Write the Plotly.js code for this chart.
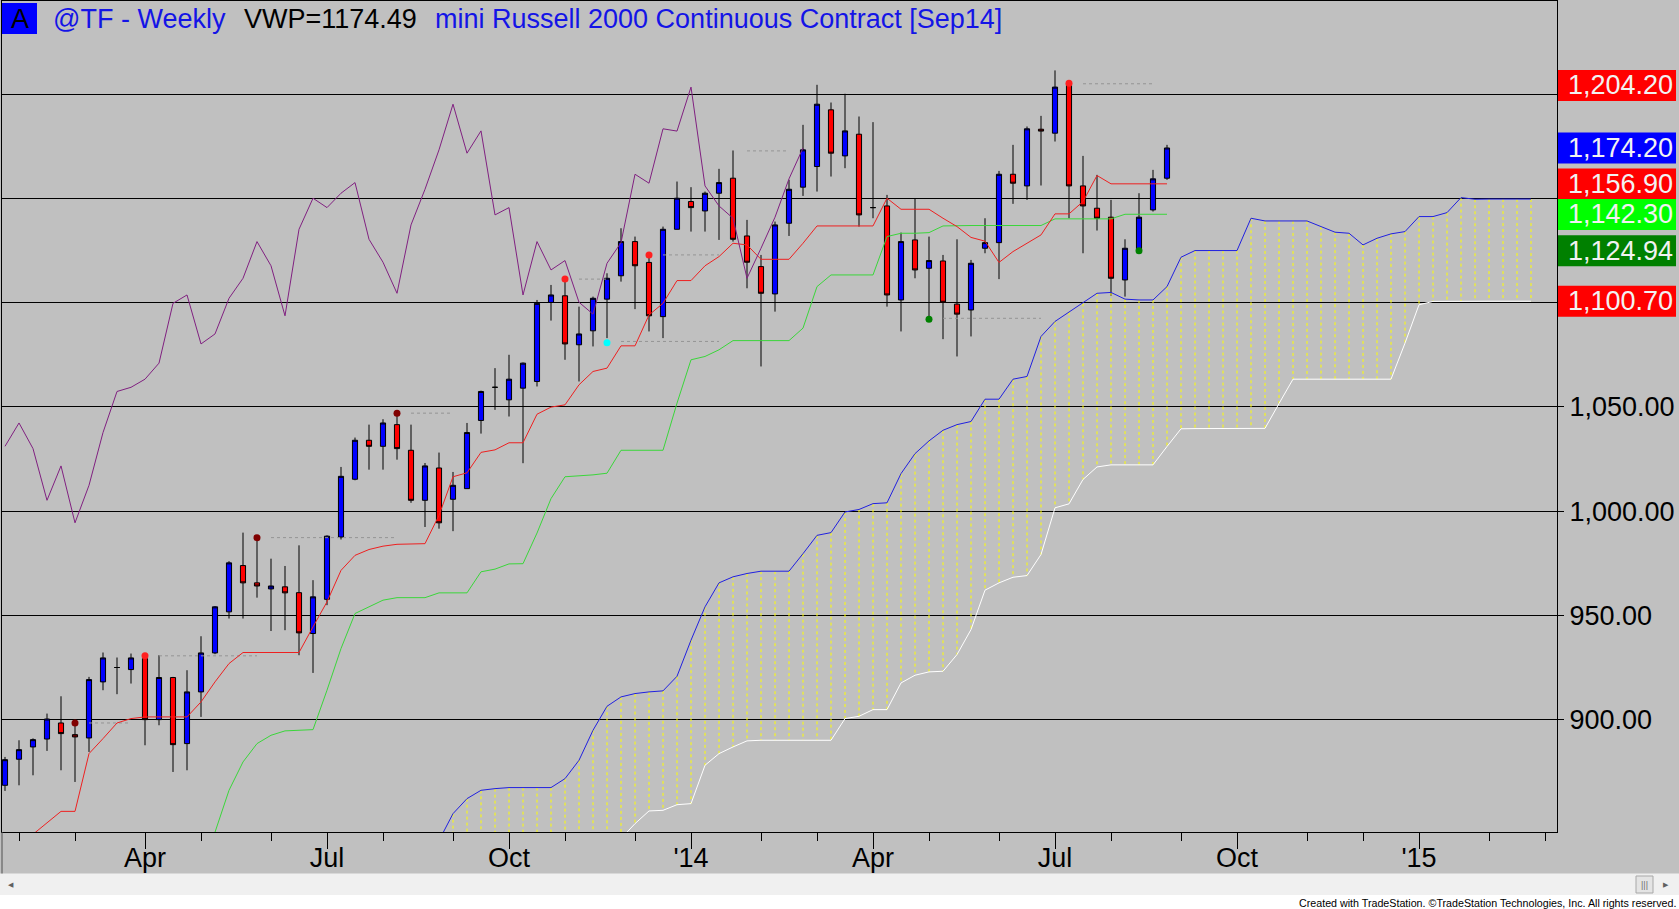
<!DOCTYPE html>
<html>
<head>
<meta charset="utf-8">
<script src="https://cdn.plot.ly/plotly-3.0.1.min.js"></script>
<style>
  html, body { margin: 0; padding: 0; background: #c0c0c0; }
  #chart { width: 1679px; height: 909px; }
</style>
</head>
<body>
<div id="chart"></div>
<script>
// @TF weekly bars, one per Friday from 2013-01-25 to 2014-08-29
const firstBarUTC = Date.UTC(2013, 0, 25)
const DAY = 86400000

const opens = [868.5, 881.0, 886.9, 890.7, 898.4, 892.8, 891.2, 918.1, 925.0, 924.0,
  929.3, 900.0, 920.2, 888.5, 913.3, 932.0, 951.7, 973.9, 965.6, 962.7,
  963.7, 960.9, 941.3, 957.7, 987.6, 1015.3, 1034.0, 1031.1, 1041.5, 1029.2,
  1005.2, 1020.7, 1005.7, 1010.8, 1043.5, 1059.4, 1053.4, 1059.0, 1062.2, 1100.1,
  1103.3, 1079.8, 1086.5, 1101.7, 1112.9, 1129.3, 1119.3, 1093.3, 1135.2, 1148.5,
  1144.0, 1152.5, 1159.7, 1132.0, 1117.3, 1104.2, 1138.1, 1155.4, 1165.3, 1192.5,
  1170.4, 1180.8, 1145.6, 1146.4, 1101.3, 1130.1, 1116.5, 1120.0, 1099.3, 1096.5,
  1126.1, 1128.8, 1161.6, 1156.0, 1183.2, 1181.3, 1205.0, 1156.0, 1145.3, 1141.0,
  1110.9, 1125.6, 1144.5, 1159.7]
const highs = [882.1, 890.1, 891.0, 902.9, 911.2, 897.3, 920.5, 932.2, 929.8, 931.7,
  931.4, 930.9, 920.5, 923.7, 940.0, 954.5, 976.0, 989.7, 987.3, 977.2,
  973.7, 983.6, 966.9, 988.4, 1021.2, 1035.3, 1041.5, 1044.1, 1046.8, 1041.5,
  1023.1, 1028.1, 1018.8, 1042.3, 1057.8, 1068.6, 1075.0, 1071.3, 1101.3, 1108.5,
  1111.3, 1098.1, 1102.9, 1114.1, 1135.7, 1131.7, 1123.7, 1136.5, 1158.1, 1155.4,
  1153.3, 1164.2, 1173.0, 1139.7, 1122.9, 1138.9, 1158.9, 1185.3, 1204.5, 1196.0,
  1200.2, 1189.3, 1186.6, 1151.7, 1133.6, 1150.1, 1131.7, 1122.9, 1130.4, 1120.5,
  1140.5, 1163.2, 1175.7, 1184.5, 1189.6, 1211.4, 1205.6, 1170.4, 1161.3, 1149.3,
  1130.4, 1152.5, 1163.7, 1175.7]
const lows = [865.8, 868.5, 873.3, 885.0, 875.7, 870.1, 884.5, 914.1, 912.2, 917.3,
  887.7, 897.3, 874.9, 875.7, 901.3, 931.4, 948.5, 948.5, 958.5, 942.5,
  942.9, 930.9, 922.4, 954.9, 986.4, 1014.8, 1019.9, 1019.9, 1024.7, 1004.0,
  992.4, 991.6, 990.4, 1010.8, 1037.2, 1048.6, 1045.4, 1023.0, 1059.8, 1091.4,
  1072.6, 1062.2, 1079.0, 1083.0, 1110.1, 1096.9, 1086.2, 1083.0, 1135.2, 1134.1,
  1134.1, 1130.1, 1129.3, 1106.9, 1069.4, 1095.7, 1132.0, 1151.2, 1153.3, 1160.5,
  1164.5, 1136.5, 1140.5, 1098.1, 1086.2, 1111.7, 1092.5, 1082.5, 1074.2, 1083.8,
  1123.7, 1111.3, 1147.4, 1149.3, 1156.2, 1177.3, 1140.5, 1123.7, 1134.6, 1103.3,
  1102.9, 1124.0, 1143.7, 1158.9]
const closes = [880.8, 885.6, 890.4, 900.3, 893.3, 891.7, 919.2, 929.6, 925.0, 929.6,
  900.0, 920.2, 888.0, 913.3, 932.0, 954.1, 975.2, 965.6, 964.1, 964.1,
  960.8, 941.6, 958.9, 988.0, 1016.7, 1034.0, 1031.1, 1042.3, 1030.0, 1005.2,
  1021.7, 994.4, 1012.4, 1037.7, 1057.4, 1059.4, 1063.3, 1071.0, 1099.7, 1103.7,
  1080.2, 1085.0, 1102.1, 1111.7, 1129.3, 1117.7, 1093.7, 1135.2, 1150.1, 1145.6,
  1152.5, 1157.6, 1130.4, 1119.4, 1104.5, 1137.3, 1154.4, 1173.3, 1195.2, 1171.7,
  1182.4, 1142.1, 1145.6, 1103.7, 1129.3, 1115.7, 1120.2, 1100.2, 1094.5, 1118.9,
  1128.8, 1161.6, 1157.3, 1183.4, 1182.3, 1203.4, 1156.0, 1146.4, 1140.5, 1111.7,
  1126.1, 1141.0, 1159.4, 1174.2]

// Ichimoku lines; each list starts at the bar index given
const tenkanStart = 2
const tenkan = [845.0, 850.4, 856.0, 856.0, 883.7, 890.9, 898.4, 900.5,
  901.3, 901.3, 901.3, 901.3, 908.5, 918.1, 926.9, 932.2, 932.2, 932.2,
  932.2, 932.2, 944.5, 956.5, 971.6, 978.8, 981.6, 983.2, 984.1, 984.4,
  984.4, 998.0, 1016.5, 1018.4, 1028.2, 1029.4, 1032.8, 1032.8, 1046.5, 1049.9,
  1051.0, 1060.6, 1067.0, 1068.6, 1079.3, 1079.3, 1094.1, 1099.7, 1110.6, 1110.6,
  1117.7, 1122.1, 1128.5, 1127.7, 1120.8, 1120.8, 1120.8, 1128.5, 1136.8, 1136.8,
  1136.8, 1136.8, 1136.8, 1150.1, 1144.8, 1144.8, 1144.8, 1140.5, 1136.5, 1131.3,
  1129.5, 1119.3, 1124.5, 1128.5, 1132.5, 1142.6, 1142.6, 1148.5, 1161.0, 1157.0,
  1157.0, 1157.0, 1157.0, 1157.0]
const kijunStart = 15
const kijun = [846.0, 866.1, 879.7, 888.5, 892.5,
  894.6, 894.9, 895.2, 914.1, 934.1, 950.9, 954.1, 957.3, 958.5, 958.5,
  958.5, 960.8, 960.8, 960.8, 970.9, 972.2, 974.7, 974.8, 989.5, 1006.0,
  1016.5, 1016.9, 1017.4, 1018.2, 1029.2, 1029.2, 1029.2, 1029.2, 1051.8, 1072.6,
  1074.2, 1077.4, 1081.8, 1081.8, 1081.8, 1081.8, 1081.8, 1087.8, 1107.7, 1113.3,
  1113.3, 1113.3, 1113.3, 1131.7, 1133.3, 1133.3, 1133.6, 1136.8, 1137.0, 1137.0,
  1137.0, 1137.0, 1137.0, 1137.0, 1137.0, 1140.2, 1140.2, 1140.2, 1140.2, 1140.2,
  1142.4, 1142.4, 1142.4, 1142.4]
const senkouAStart = 31
const senkouA = [842.0, 854.9, 862.1, 866.1, 866.9, 867.4, 867.4, 867.4, 867.4,
  871.7, 880.5, 894.9, 906.4, 910.9, 912.5, 913.3, 913.8, 920.8, 938.1,
  954.1, 965.6, 968.5, 970.1, 971.2, 971.2, 971.2, 979.6, 988.4, 989.7,
  999.6, 1000.8, 1003.6, 1004.0, 1018.0, 1027.6, 1033.7, 1038.8, 1041.5, 1043.0,
  1053.7, 1053.7, 1063.3, 1064.6, 1083.8, 1091.0, 1095.4, 1099.7, 1104.5, 1104.9,
  1101.7, 1101.3, 1101.3, 1107.7, 1121.8, 1125.0, 1125.0, 1125.0, 1125.0, 1140.5,
  1139.2, 1139.2, 1139.2, 1139.2, 1136.5, 1133.8, 1133.3, 1127.7, 1130.9, 1133.0,
  1134.1, 1141.3, 1141.3, 1143.2, 1150.4, 1149.6, 1149.7, 1149.7, 1149.7, 1149.7]
const senkouBStart = 44
const senkouB = [843.0, 850.1, 856.2, 856.5, 859.2, 859.7,
  878.1, 883.7, 886.9, 889.8, 890.1, 890.1, 890.1, 890.1, 890.1, 890.1,
  900.5, 901.6, 904.8, 904.8, 917.6, 921.3, 922.9, 923.2, 931.2, 943.2,
  962.1, 965.6, 968.3, 969.1, 979.2, 1001.6, 1003.5, 1015.2, 1021.2, 1022.2,
  1022.2, 1022.2, 1022.2, 1031.0, 1039.5, 1039.6, 1039.6, 1039.6, 1039.6, 1039.6,
  1039.7, 1051.6, 1063.3, 1063.3, 1063.3, 1063.3, 1063.3, 1063.3, 1063.3, 1063.3,
  1080.6, 1099.0, 1100.6, 1100.7, 1100.7, 1100.7, 1100.7, 1100.7, 1100.7, 1100.7]
const laggingShift = 26

// swing markers and the dotted levels that trail them
const dotBars = [5, 10, 18, 28, 40, 43, 46, 66, 76, 81]
const dotPrices = [898.4, 930.6, 987.3, 1047.0, 1111.3, 1080.8, 1122.9, 1092.0, 1205.3, 1124.9]
const dotColors = ['#800000', '#ff2020', '#800000', '#800000', '#ff2020', '#00ffff', '#ff2020', '#008000', '#ff2020', '#008000']
const levelFrom = [6, 11, 19, 29, 41, 44, 47, 53, 67, 77]
const levelTo = [9, 18, 28, 32, 43, 51, 51, 56, 74, 82]
const levelPrice = [898.4, 930.6, 987.3, 1047.0, 1111.3, 1081.4, 1122.9, 1172.8, 1092.5, 1205.0]

// price tags on the right scale
const tagPrices = [1204.20, 1174.20, 1156.90, 1142.30, 1124.94, 1100.70]
const tagColors = ['#ff0000', '#0000ff', '#ff0000', '#00ff00', '#008000', '#ff0000']

const yTickVals = [900, 950, 1000, 1050, 1100, 1150, 1200]
const yTickText = ['900.00', '950.00', '1,000.00', '1,050.00', '', '', '']
const xTickDates = ['2013-04-05', '2013-07-05', '2013-10-04', '2014-01-03', '2014-04-04', '2014-07-04', '2014-10-03', '2015-01-02']
const xTickText = ['Apr', 'Jul', 'Oct', "'14", 'Apr', 'Jul', 'Oct', "'15"]
const xMinorDates = ['2013-02-01', '2013-03-01', '2013-05-03', '2013-06-07', '2013-08-02', '2013-09-06',
  '2013-11-01', '2013-12-06', '2014-02-07', '2014-03-07', '2014-05-02', '2014-06-06',
  '2014-08-01', '2014-09-05', '2014-11-07', '2014-12-05', '2015-02-06', '2015-03-06']

const FONT = 'Liberation Sans, Arial, sans-serif'
const yMin = 846.1
const yMax = 1244.7
// plot box in page pixels
const L = 2, T = 1, R = 1557, B = 832

function barDate(i) {
  return new Date(firstBarUTC + i * 7 * DAY).toISOString().slice(0, 10)
}
function msDate(ms) {
  return new Date(ms).toISOString().slice(0, 19).replace('T', ' ')
}
function px(x) { return (x - L) / (R - L) }
function py(y) { return (B - y) / (B - T) }
function priceToPaper(v) { return (v - yMin) / (yMax - yMin) }
function fmt(v) {
  let s = v.toFixed(2)
  let parts = s.split('.')
  parts[0] = parts[0].replace(/\B(?=(\d{3})+(?!\d))/g, ',')
  return parts.join('.')
}
function offsetSeries(values, start) {
  return {
    x: values.map((v, k) => barDate(start + k)),
    y: values
  }
}

const barDates = closes.map((c, i) => barDate(i))

// cloud hatching: dotted vertical from span A to span B (or the floor when B is off the chart)
let cloudX = [], cloudY = []
senkouA.forEach((a, k) => {
  let i = senkouAStart + k
  let b = i >= senkouBStart ? senkouB[i - senkouBStart] : yMin
  cloudX.push(barDate(i), barDate(i), null)
  cloudY.push(a, b, null)
})

let levelX = [], levelY = []
levelPrice.forEach((p, k) => {
  levelX.push(barDate(levelFrom[k]), barDate(levelTo[k]), null)
  levelY.push(p, p, null)
})

let tA = offsetSeries(senkouA, senkouAStart)
let tB = offsetSeries(senkouB, senkouBStart)
let tTen = offsetSeries(tenkan, tenkanStart)
let tKij = offsetSeries(kijun, kijunStart)

const traces = [
  { x: cloudX, y: cloudY, mode: 'lines', type: 'scatter', hoverinfo: 'none',
    line: { color: '#ffff00', width: 1, dash: 'dot' } },
  { x: tA.x, y: tA.y, mode: 'lines', type: 'scatter', hoverinfo: 'none',
    line: { color: '#2020e0', width: 1 } },
  { x: tB.x, y: tB.y, mode: 'lines', type: 'scatter', hoverinfo: 'none',
    line: { color: '#ffffff', width: 1 } },
  { x: levelX, y: levelY, mode: 'lines', type: 'scatter', hoverinfo: 'none',
    line: { color: '#949494', width: 1, dash: 'dot' } },
  { x: barDates, open: opens, high: highs, low: lows, close: closes,
    type: 'candlestick', hoverinfo: 'none', whiskerwidth: 0,
    increasing: { line: { color: '#000000', width: 1 }, fillcolor: '#0000ff' },
    decreasing: { line: { color: '#000000', width: 1 }, fillcolor: '#ff0000' } },
  { x: tKij.x, y: tKij.y, mode: 'lines', type: 'scatter', hoverinfo: 'none',
    line: { color: '#3ad63a', width: 1 } },
  { x: tTen.x, y: tTen.y, mode: 'lines', type: 'scatter', hoverinfo: 'none',
    line: { color: '#ee2020', width: 1 } },
  { x: barDates.slice(0, closes.length - laggingShift), y: closes.slice(laggingShift),
    mode: 'lines', type: 'scatter', hoverinfo: 'none',
    line: { color: '#802080', width: 1 } },
  { x: dotBars.map(barDate), y: dotPrices, mode: 'markers', type: 'scatter', hoverinfo: 'none',
    marker: { color: dotColors, size: 7, line: { width: 0 } } }
]

const shapes = [
  // symbol box
  { type: 'rect', xref: 'paper', yref: 'paper', x0: px(2), x1: px(37), y0: py(34), y1: py(3),
    fillcolor: '#0000ff', line: { width: 0 } },
  // scrollbar strip and footer
  { type: 'rect', xref: 'paper', yref: 'paper', x0: px(0), x1: px(1679), y0: py(895), y1: py(873.5),
    fillcolor: '#f0f0f0', line: { width: 0 }, layer: 'below' },
  { type: 'rect', xref: 'paper', yref: 'paper', x0: px(0), x1: px(1679), y0: py(909), y1: py(895),
    fillcolor: '#ffffff', line: { width: 0 }, layer: 'below' },
  { type: 'rect', xref: 'paper', yref: 'paper', x0: px(1636), x1: px(1653), y0: py(893), y1: py(876),
    fillcolor: '#e4e4e4', line: { color: '#a8a8a8', width: 1 } },
  { type: 'line', xref: 'paper', yref: 'paper', x0: px(2), x1: px(2), y0: py(873.5), y1: py(832),
    line: { color: '#505050', width: 1 } }
]
const tagHalf = 15.5 / ((B - T) / (yMax - yMin))
tagPrices.forEach((p, k) => {
  shapes.push({ type: 'rect', xref: 'paper', yref: 'paper', x0: px(1558), x1: px(1676),
    y0: priceToPaper(p - tagHalf), y1: priceToPaper(p + tagHalf),
    fillcolor: tagColors[k], line: { width: 0 } })
})

const annotations = [
  { text: 'A', xref: 'paper', yref: 'paper', x: px(19.5), y: py(19), xanchor: 'center', yanchor: 'middle',
    showarrow: false, font: { family: FONT, size: 27, color: '#000000' } },
  { text: '@TF - Weekly', xref: 'paper', yref: 'paper', x: px(51), y: py(19), xanchor: 'left', yanchor: 'middle',
    showarrow: false, font: { family: FONT, size: 27, color: '#1414e6' } },
  { text: 'VWP=1174.49', xref: 'paper', yref: 'paper', x: px(242), y: py(19), xanchor: 'left', yanchor: 'middle',
    showarrow: false, font: { family: FONT, size: 27, color: '#000000' } },
  { text: 'mini Russell 2000 Continuous Contract [Sep14]', xref: 'paper', yref: 'paper', x: px(433), y: py(19),
    xanchor: 'left', yanchor: 'middle', showarrow: false, font: { family: FONT, size: 27, color: '#1414e6' } },
  { text: 'Created with TradeStation. \u00a9TradeStation Technologies, Inc. All rights reserved.',
    xref: 'paper', yref: 'paper', x: px(1678), y: py(902.5), xanchor: 'right', yanchor: 'middle',
    showarrow: false, font: { family: FONT, size: 10.7, color: '#000000' } },
  { text: '\u25c0', xref: 'paper', yref: 'paper', x: px(11), y: py(884.5), xanchor: 'center', yanchor: 'middle',
    showarrow: false, font: { family: 'DejaVu Sans', size: 7, color: '#606060' } },
  { text: '\u25b6', xref: 'paper', yref: 'paper', x: px(1665.5), y: py(884.5), xanchor: 'center', yanchor: 'middle',
    showarrow: false, font: { family: 'DejaVu Sans', size: 7, color: '#606060' } },
  { text: '|||', xref: 'paper', yref: 'paper', x: px(1644.5), y: py(884.5), xanchor: 'center', yanchor: 'middle',
    showarrow: false, font: { family: FONT, size: 9, color: '#707070' } }
]
tagPrices.forEach((p, k) => {
  annotations.push({ text: fmt(p), xref: 'paper', yref: 'y', x: px(1675), y: p,
    xanchor: 'right', yanchor: 'middle', showarrow: false,
    font: { family: FONT, size: 27, color: '#f2f2f2' } })
})

const layout = {
  width: 1679,
  height: 909,
  margin: { l: L, r: 1679 - R, t: T, b: 909 - B, pad: 0 },
  paper_bgcolor: '#c0c0c0',
  plot_bgcolor: '#c0c0c0',
  showlegend: false,
  boxgap: 0.48,
  font: { family: FONT, size: 27, color: '#000000' },
  xaxis: {
    type: 'date',
    range: [msDate(firstBarUTC - 1.5 * DAY), msDate(firstBarUTC + 776 * DAY)],
    rangeslider: { visible: false },
    tickmode: 'array',
    tickvals: xTickDates,
    ticktext: xTickText,
    ticks: 'outside',
    ticklen: 16,
    ticklabelstandoff: -14,
    tickcolor: '#000000',
    tickfont: { family: FONT, size: 27, color: '#000000' },
    showgrid: false,
    zeroline: false,
    showline: true,
    mirror: true,
    linecolor: '#000000',
    linewidth: 1,
    automargin: false,
    minor: { tickmode: 'array', tickvals: xMinorDates, ticks: 'outside', ticklen: 8, tickcolor: '#000000', showgrid: false }
  },
  yaxis: {
    side: 'right',
    range: [yMin, yMax],
    tickmode: 'array',
    tickvals: yTickVals,
    ticktext: yTickText,
    ticks: 'outside',
    ticklen: 6,
    tickcolor: '#000000',
    tickfont: { family: FONT, size: 27, color: '#000000' },
    showgrid: true,
    gridcolor: '#000000',
    gridwidth: 1,
    zeroline: false,
    showline: true,
    mirror: true,
    linecolor: '#000000',
    linewidth: 1,
    automargin: false
  },
  shapes: shapes,
  annotations: annotations
}

Plotly.newPlot('chart', traces, layout, { staticPlot: true, displayModeBar: false })
</script>
</body>
</html>
